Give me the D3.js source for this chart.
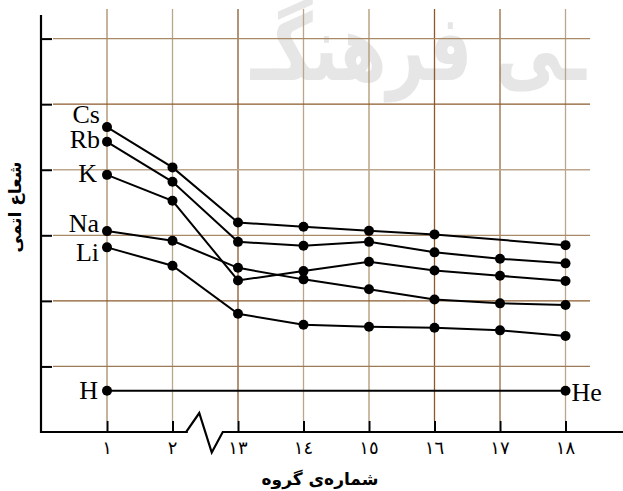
<!DOCTYPE html>
<html>
<head>
<meta charset="utf-8">
<script src="https://cdn.jsdelivr.net/npm/d3@7"></script>
<style>
    body { margin: 0; background: #fff; }
    #chart { width: 623px; height: 491px; }
</style>
</head>
<body>
<div id="chart"></div>
<script>
// Group numbers on the x axis, and their Persian labels
const groups = ["1", "2", "13", "14", "15", "16", "17", "18"];
const groupLabels = ["١", "٢", "١٣", "١٤", "١٥", "١٦", "١٧", "١٨"];

// Atomic radius (arbitrary units)
const radiusLi = [140.8, 126.8, 90.2, 81.8, 80.3, 79.5, 77.5, 73.2];
const radiusNa = [153.2, 145.8, 125.2, 116.4, 108.8, 101.1, 98.1, 96.8];
const radiusK  = [196.1, 176.3, 115.6, 122.7, 129.8, 123.2, 119.1, 115.1];
const radiusRb = [221.3, 190.8, 145.0, 142.0, 145.0, 137.0, 132.1, 128.6];
const radiusCs = [232.5, 201.8, 159.7, 156.5, 153.4, 150.7, null, 142.5];

// Hydrogen / helium row
const hGroups = ["1", "18"];
const radiusH = [31.5, 31.5];

const periodNames = ["Li", "Na", "K", "Rb", "Cs"];
const yTicks = [50, 100, 150, 200, 250, 300];

class RadiusVis {

    constructor(parentElement) {
        this.parentElement = parentElement;
        this.series = [radiusLi, radiusNa, radiusK, radiusRb, radiusCs];
        this.initVis();
    }

    initVis() {
        let vis = this;

        vis.width = 623;
        vis.height = 491;

        vis.svg = d3.select("#" + vis.parentElement).append("svg")
            .attr("width", vis.width)
            .attr("height", vis.height);

        // scales
        vis.x = d3.scalePoint().domain(groups).range([107, 565.5]);
        vis.y = d3.scaleLinear().domain([0, 318]).range([432, 15]);

        // watermark behind everything (squeezed a bit horizontally)
        vis.svg.append("text")
            .attr("transform", "translate(586,80) scale(0.67,0.92)")
            .attr("text-anchor", "end")
            .attr("font-family", "DejaVu Sans")
            .attr("font-weight", "bold")
            .attr("font-size", 100)
            .attr("fill", "#e6e6e6")
            .text("ـی فرهنگـ");

        // grid colours (scan has light and dark brown lines)
        const vColors = ["#a88a66", "#bba68c", "#8a5a2c", "#bba68c", "#b09570", "#8a5a2c", "#956a40", "#bba68c"];
        const hColors = ["#9c7a55", "#8a5a2c", "#a88a66", "#bba68c", "#8a5a2c", "#a88a66"];

        vis.svg.append("g").selectAll("line")
            .data(groups)
            .enter().append("line")
            .attr("x1", d => vis.x(d)).attr("x2", d => vis.x(d))
            .attr("y1", 9).attr("y2", 421)
            .attr("stroke", (d, i) => vColors[i])
            .attr("stroke-width", 1.3);

        vis.svg.append("g").selectAll("line")
            .data(yTicks)
            .enter().append("line")
            .attr("x1", 53).attr("x2", 590)
            .attr("y1", d => vis.y(d)).attr("y2", d => vis.y(d))
            .attr("stroke", (d, i) => hColors[i])
            .attr("stroke-width", 1.3);

        // y axis, ticks inside
        let yAxis = d3.axisRight(vis.y).tickValues(yTicks).tickSize(11).tickFormat("");
        vis.svg.append("g")
            .attr("transform", "translate(41,0)")
            .call(yAxis)
            .call(g => g.select(".domain").remove())
            .selectAll("line").attr("stroke", "#000").attr("stroke-width", 2);
        vis.svg.append("line")
            .attr("x1", 41).attr("x2", 41)
            .attr("y1", vis.y(318)).attr("y2", 433)
            .attr("stroke", "#000").attr("stroke-width", 2.2);

        // x axis with the break between 2 and 13
        let mid = (vis.x("2") + vis.x("13")) / 2;
        let y0 = vis.y(0);
        let breakPts = [[40, y0], [mid - 18.5, y0], [mid - 18.5, y0 - 1], [mid - 6, y0 - 19],
            [mid + 6.5, y0 + 20.5], [mid + 17.5, y0], [623, y0]];
        vis.svg.append("path")
            .attr("d", d3.line()(breakPts))
            .attr("fill", "none")
            .attr("stroke", "#000")
            .attr("stroke-width", 2.2);

        let xAxis = d3.axisTop(vis.x).tickSize(11).tickFormat("");
        vis.svg.append("g")
            .attr("transform", `translate(0,${y0})`)
            .call(xAxis)
            .call(g => g.select(".domain").remove())
            .selectAll("line").attr("stroke", "#000").attr("stroke-width", 2);

        vis.svg.append("g").selectAll("text")
            .data(groups)
            .enter().append("text")
            .attr("x", d => vis.x(d))
            .attr("y", 454)
            .attr("text-anchor", "middle")
            .attr("font-family", "DejaVu Sans")
            .attr("font-size", 18)
            .attr("letter-spacing", 2)
            .text((d, i) => groupLabels[i]);

        // axis titles
        vis.svg.append("text")
            .attr("x", 320)
            .attr("y", 485)
            .attr("text-anchor", "middle")
            .attr("font-family", "DejaVu Sans")
            .attr("font-weight", "bold")
            .attr("font-size", 17)
            .text("شماره‌ی گروه");

        vis.svg.append("text")
            .attr("transform", "translate(21,207) rotate(-90)")
            .attr("text-anchor", "middle")
            .attr("font-family", "DejaVu Sans")
            .attr("font-weight", "bold")
            .attr("font-size", 17)
            .text("شعاع اتمی");

        vis.updateVis();
    }

    updateVis() {
        let vis = this;

        let line = d3.line()
            .x(d => vis.x(d.group))
            .y(d => vis.y(d.value));

        // label offsets from the first point of each row
        const labelOffset = {
            Li: [-8, 14], Na: [-8, 1], K: [-10, 7], Rb: [-7, 6], Cs: [-7, -4]
        };

        vis.series.forEach((vals, i) => {
            let pts = groups.map((g, j) => ({ group: g, value: vals[j] }))
                .filter(d => d.value !== null);

            vis.svg.append("path")
                .attr("d", line(pts))
                .attr("fill", "none")
                .attr("stroke", "#000")
                .attr("stroke-width", 2);

            vis.svg.append("g").selectAll("circle")
                .data(pts)
                .enter().append("circle")
                .attr("cx", d => vis.x(d.group))
                .attr("cy", d => vis.y(d.value))
                .attr("r", 5)
                .attr("fill", "#000");

            let name = periodNames[i];
            vis.svg.append("text")
                .attr("x", vis.x(pts[0].group) + labelOffset[name][0])
                .attr("y", vis.y(pts[0].value) + labelOffset[name][1])
                .attr("text-anchor", "end")
                .attr("font-family", "Liberation Serif")
                .attr("font-size", 26)
                .text(name);
        });

        // H ... He
        let hPts = hGroups.map((g, j) => ({ group: g, value: radiusH[j] }));
        vis.svg.append("path")
            .attr("d", line(hPts))
            .attr("fill", "none")
            .attr("stroke", "#000")
            .attr("stroke-width", 2);
        vis.svg.append("g").selectAll("circle")
            .data(hPts)
            .enter().append("circle")
            .attr("cx", d => vis.x(d.group))
            .attr("cy", d => vis.y(d.value))
            .attr("r", 5)
            .attr("fill", "#000");

        vis.svg.append("text")
            .attr("x", vis.x("1") - 9)
            .attr("y", vis.y(radiusH[0]) + 8)
            .attr("text-anchor", "end")
            .attr("font-family", "Liberation Serif")
            .attr("font-size", 26)
            .text("H");
        vis.svg.append("text")
            .attr("x", vis.x("18") + 6)
            .attr("y", vis.y(radiusH[1]) + 10)
            .attr("font-family", "Liberation Serif")
            .attr("font-size", 26)
            .text("He");
    }
}

new RadiusVis("chart");
</script>
</body>
</html>
